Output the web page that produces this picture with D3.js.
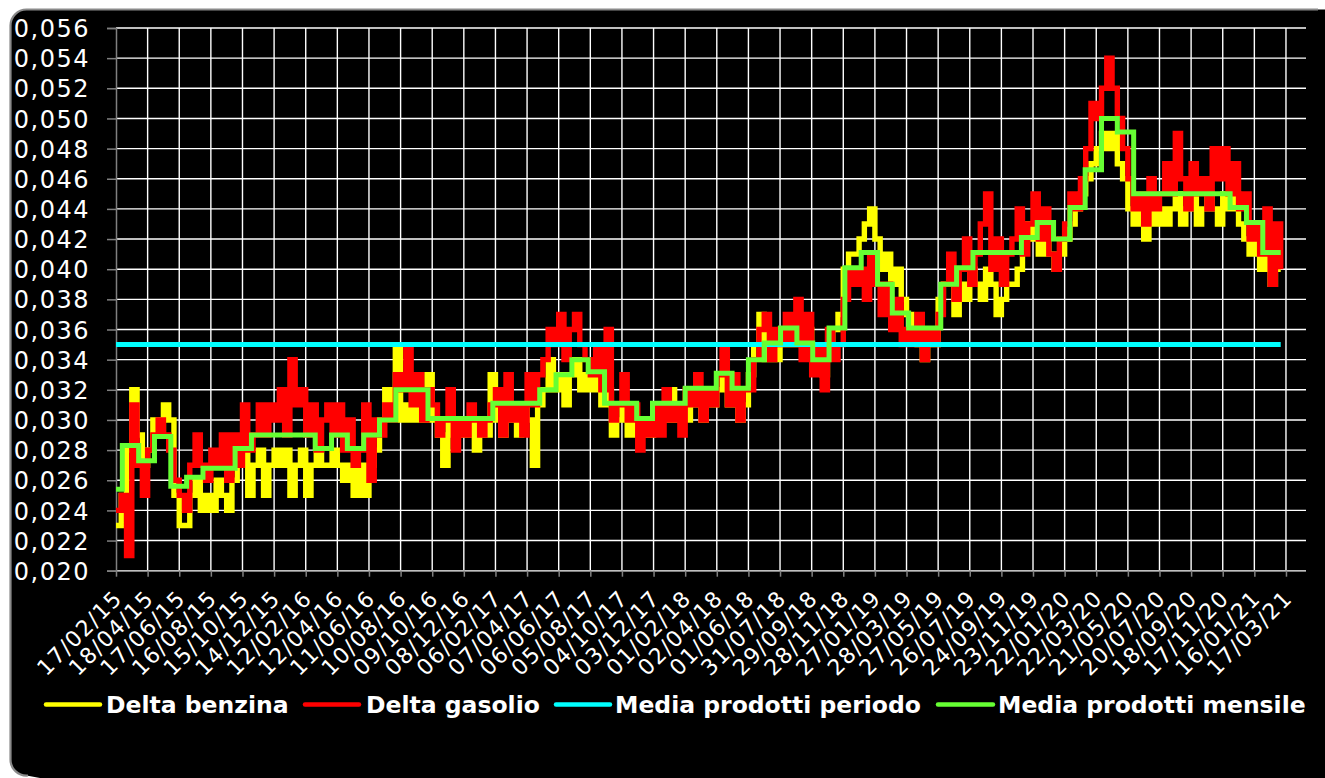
<!DOCTYPE html>
<html><head><meta charset="utf-8">
<script src="https://cdn.jsdelivr.net/npm/d3@7"></script>
<style>html,body{margin:0;padding:0;background:#fff;}svg{display:block;}</style>
</head><body>
<svg id="chart" width="1325" height="778"></svg>
<script>
// ---------- DATA ----------
const tickLabels = ["17/02/15","18/04/15","17/06/15","16/08/15","15/10/15","14/12/15","12/02/16","12/04/16","11/06/16","10/08/16","09/10/16","08/12/16","06/02/17","07/04/17","06/06/17","05/08/17","04/10/17","03/12/17","01/02/18","02/04/18","01/06/18","31/07/18","29/09/18","28/11/18","27/01/19","28/03/19","27/05/19","26/07/19","24/09/19","23/11/19","22/01/20","22/03/20","21/05/20","20/07/20","18/09/20","17/11/20","16/01/21","17/03/21"];
const yTickValues = [0.020,0.022,0.024,0.026,0.028,0.030,0.032,0.034,0.036,0.038,0.040,0.042,0.044,0.046,0.048,0.050,0.052,0.054,0.056];
const seriesStart = "17/02/15";
const sampleStepDays = 10;
// values in thousandths of euro (one every 10 days)
const deltaBenzina = [
 23,25,28,32,29,27,28,30,29,31, 30,25,23,23,25,26,24,25,24,26,
 25,24,26,27,28,25,27,28,25,27, 28,27,28,25,27,28,25,27,28,27,
 27,28,27,26,27,25,27,25,27,28, 30,32,31,35,30,31,30,31,30,33,
 30,29,27,30,29,30,29,30,28,30, 29,33,30,29,31,30,29,31,30,27,
 31,32,34,32,33,31,33,34,32,33, 32,33,31,32,29,30,31,29,30,29,
 30,29,30,31,30,32,30,31,30,31, 31,30,32,31,32,33,31,32,30,31,
 33,35,37,34,35,34,36,35,36,35, 35,36,34,35,33,35,36,37,40,41,
 41,42,43,44,42,40,41,39,40,38, 37,36,35,34,36,35,38,39,40,37,
 39,38,40,39,38,40,39,37,38,39, 39,40,42,43,42,41,43,41,40,41,
 42,43,44,45,46,47,48,49,48,49, 47,46,44,43,44,42,44,43,44,43,
 44,45,43,44,45,43,44,45,44,43, 45,44,45,43,42,41,43,40,41,39,40,40];
const deltaGasolio = [
 24,25,21,31,27,25,28,29,30,29, 28,26,25,24,27,29,27,26,28,27,
 29,26,29,27,31,28,29,31,29,31, 30,32,29,34,31,32,29,31,28,30,
 31,29,31,28,30,27,28,31,26,30, 29,31,30,33,32,35,31,33,30,32,
 31,29,30,32,28,30,29,31,30,29, 30,31,32,29,33,30,31,29,33,31,
 33,34,36,35,37,34,36,37,35,34, 33,35,32,36,30,31,33,30,31,28,
 30,29,31,29,32,30,31,29,32,31, 33,30,32,31,33,35,31,33,30,32,
 32,34,36,37,34,36,35,37,35,38, 34,37,33,35,32,36,34,35,38,40,
 39,40,38,41,39,37,39,36,38,35, 36,35,37,34,36,35,37,39,41,38,
 40,42,39,41,43,45,40,42,39,41, 42,44,41,43,45,42,44,41,40,42,
 43,45,44,46,48,51,50,52,54,52, 50,48,46,44,45,43,46,44,45,47,
 45,49,46,44,47,45,46,44,48,46, 48,45,47,44,45,42,43,41,44,39,43,40];
const mediaPeriodo = 0.035;
const firstMonth = "01/02/15";
// monthly mean, thousandths, Feb 2015 .. Mar 2021
const mediaMensile = [
 25.4,28.3,27.3,28.9,25.6,26.2,26.8,26.8,28.1,29.0,29.0,
 29.0,29.0,28.1,29.0,28.1,29.0,30.0,32.0,32.0,30.1,30.1,30.1,
 30.1,31.1,31.1,31.1,32.0,33.0,34.0,33.2,31.1,31.1,30.1,31.1,
 31.1,32.1,32.1,33.1,32.1,34.0,35.1,36.1,35.1,34.0,36.1,40.1,
 41.1,39.0,37.1,36.1,36.1,39.0,40.1,41.1,41.1,41.1,42.1,43.1,
 42.0,44.1,46.6,50.0,49.1,45.0,45.0,45.0,45.0,45.0,45.0,44.1,
 43.1,41.1,41.1];
const legendNames = ["Delta benzina","Delta gasolio","Media prodotti periodo","Media prodotti mensile"];
const colors = {benzina:"#ffff00", gasolio:"#ff0000", periodo:"#00ffff", mensile:"#66ff33"};

// ---------- CHART ----------
const svg = d3.select("#chart");
const parse = d3.utcParse("%d/%m/%y");
const t0 = parse(seriesStart);
const plot = {left:116, right:1306, top:28, bottom:570.7};
const x = d3.scaleUtc().domain([t0, d3.utcDay.offset(t0, 2258)]).range([plot.left, plot.right]);
const y = d3.scaleLinear().domain([0.020, 0.056]).range([plot.bottom, plot.top]);

// frame
svg.append("path")
  .attr("d","M10.5,25.5 A16,16 0 0 1 26.5,9.5 H1325 V778 H40 L26.5,775.5 A16,16 0 0 1 10.5,759.5 Z")
  .attr("fill","#000");
svg.append("path")
  .attr("d","M28,775.5 A16,16 0 0 1 10.5,759.5 V25.5 A16,16 0 0 1 26.5,9.5 H1318")
  .attr("fill","none").attr("stroke","#8a8a8a").attr("stroke-width",2.2);

const tickDates = tickLabels.map(parse);

// grid
const grid = svg.append("g");
grid.selectAll(".hg").data(yTickValues).join("line")
  .attr("x1",plot.left).attr("x2",plot.right)
  .attr("y1",d=>y(d)).attr("y2",d=>y(d))
  .attr("stroke","#fff").attr("stroke-width",1.4);
grid.selectAll(".vg").data(tickDates.slice(1)).join("line")
  .attr("x1",d=>x(d)).attr("x2",d=>x(d))
  .attr("y1",plot.top).attr("y2",plot.bottom)
  .attr("stroke","#fff").attr("stroke-width",1.4);

// y axis
const yAxis = d3.axisLeft(y).tickValues(yTickValues).tickSize(9).tickPadding(17)
  .tickFormat(d=>d3.format(".3f")(d).replace(".",","));
const gy = svg.append("g").attr("transform",`translate(${plot.left},0)`).call(yAxis);
gy.select(".domain").attr("stroke","#808080").attr("stroke-width",1.5);
gy.selectAll(".tick line").attr("stroke","#808080").attr("stroke-width",1.5);
gy.selectAll(".tick text").attr("fill","#fff").attr("font-family","DejaVu Sans")
  .attr("font-size",24).attr("letter-spacing","1.5px").attr("dy","0.36em");

// x axis
const xAxis = d3.axisBottom(x).tickValues(tickDates).tickSize(6).tickFormat((d,i)=>tickLabels[i]);
const gx = svg.append("g").attr("transform",`translate(0,${plot.bottom})`).call(xAxis);
gx.select(".domain").attr("stroke","#808080").attr("stroke-width",1.5)
  .attr("d",`M${plot.left-9},0.5H${plot.right}`);
gx.selectAll(".tick line").attr("stroke","#808080").attr("stroke-width",1.5);
gx.selectAll(".tick text").attr("fill","#fff").attr("font-family","DejaVu Sans")
  .attr("font-size",22).attr("letter-spacing","1.3px")
  .attr("text-anchor","end").attr("dy",null).attr("y",null)
  .attr("transform","translate(7,29) rotate(-45)");

// series
const toPts = arr => arr.map((v,i)=>({d:d3.utcDay.offset(t0,i*sampleStepDays), v:v/1000}));
const benz = toPts(deltaBenzina), gas = toPts(deltaGasolio);
const dataEnd = benz[benz.length-1].d;
const sline = d3.line().x(p=>x(p.d)).y(p=>y(p.v)).curve(d3.curveStepAfter);

svg.append("path").datum(benz).attr("d",sline).attr("fill","none")
  .attr("stroke",colors.benzina).attr("stroke-width",5.4).attr("stroke-linejoin","miter");
svg.append("path").datum(gas).attr("d",sline).attr("fill","none")
  .attr("stroke",colors.gasolio).attr("stroke-width",5.4).attr("stroke-linejoin","miter");

// period average
svg.append("line").attr("x1",x(t0)).attr("x2",x(dataEnd))
  .attr("y1",y(mediaPeriodo)).attr("y2",y(mediaPeriodo))
  .attr("stroke",colors.periodo).attr("stroke-width",5);

// monthly average
const m0 = parse(firstMonth);
const mPts = mediaMensile.map((v,i)=>{
  let d = d3.utcMonth.offset(m0,i); if (d < t0) d = t0;
  return {d, v:v/1000};
});
mPts.push({d:dataEnd, v:mPts[mPts.length-1].v});
svg.append("path").datum(mPts).attr("d",sline).attr("fill","none")
  .attr("stroke",colors.mensile).attr("stroke-width",5);

// legend
const legendItems = [
  {name:legendNames[0], c:colors.benzina, x1:46, x2:100, tx:106},
  {name:legendNames[1], c:colors.gasolio, x1:305, x2:359, tx:366},
  {name:legendNames[2], c:colors.periodo, x1:556, x2:610, tx:615},
  {name:legendNames[3], c:colors.mensile, x1:938, x2:993, tx:998}
];
const lg = svg.append("g");
legendItems.forEach(it=>{
  lg.append("line").attr("x1",it.x1).attr("x2",it.x2).attr("y1",704.5).attr("y2",704.5)
    .attr("stroke",it.c).attr("stroke-width",4.5).attr("stroke-linecap","round");
  lg.append("text").attr("x",it.tx).attr("y",712.8).text(it.name)
    .attr("fill","#fff").attr("font-family","DejaVu Sans").attr("font-weight","bold").attr("font-size",23.5);
});
</script>
</body></html>
